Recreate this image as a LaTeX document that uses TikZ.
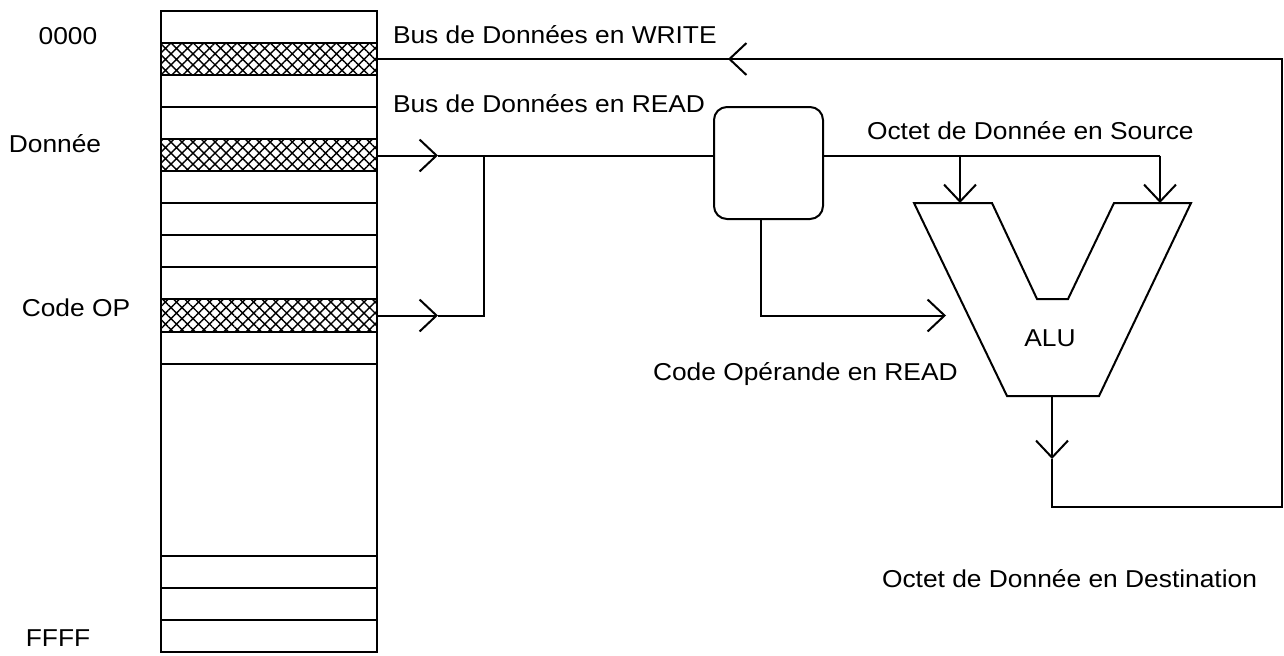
\documentclass[tikz,border=0pt]{standalone}
\usepackage{fontspec}
\setmainfont{Liberation Sans}[FakeStretch=1.08]
\usetikzlibrary{arrows.meta,patterns.meta}
\begin{document}
\begin{tikzpicture}[x=0.5pt,y=-0.5pt, line width=1pt,
  every node/.style={font=\fontsize{12.2}{14}\selectfont, inner sep=0pt, outer sep=0pt},
  chev/.tip={Straight Barb[length=8.5pt,width=16pt]},
  lbl/.style={anchor=base west},
  side/.style={anchor=base},
  memcol/.style={draw, line width=1.2pt, anchor=north west,
    minimum width=108pt, minimum height=320.5pt},
  hatched/.style={pattern={Hatch[angle=45,distance=3.9pt,line width=0.7pt]}},
  selbox/.style={draw, rounded corners=6.5pt, anchor=north west,
    minimum width=54.5pt, minimum height=56pt}]
\useasboundingbox (0,0) rectangle (1284,655);

% memory column: 20 slots of equal height
\def\slot{32.05}
\foreach \k in {1,4,9}
  \fill[hatched] (161,{11+\k*\slot}) rectangle (377,{11+(\k+1)*\slot});
\foreach \k in {1,...,11,17,18,19}
  \draw (161,{11+\k*\slot}) -- (377,{11+\k*\slot});
\node[memcol] (mem) at (161,11) {};

% address labels
\node[side] (a0) at (68,44) {0000};
\node[side] (aD) at (55,152) {Donnée};
\node[side] (aC) at (76,316) {Code OP};
\node[side] (aF) at (58,646) {FFFF};

% selector box
\node[selbox] (sel) at (714,107) {};

% ALU outline
\coordinate (aluTL) at (914,203);
\coordinate (aluIL) at (992,203);
\coordinate (aluNL) at (1037,299);
\coordinate (aluNR) at (1068,299);
\coordinate (aluIR) at (1114,203);
\coordinate (aluTR) at (1191,203);
\coordinate (aluBR) at (1099,396);
\coordinate (aluBL) at (1007,396);
\draw (aluTL) -- (aluIL) -- (aluNL) -- (aluNR) -- (aluIR) -- (aluTR)
  -- (aluBR) -- (aluBL) -- cycle;
\node (alu) at (1050,338) {ALU};

% connection points
\coordinate (rowW) at (377,59);
\coordinate (rowD) at (377,155.5);
\coordinate (rowC) at (377,315.5);
\coordinate (tipD) at (438,155.5);
\coordinate (tipC) at (438,315.5);
\coordinate (jR) at (484,155.5);
\coordinate (inA) at (960,203);
\coordinate (inB) at (1160,203);
\coordinate (opTap) at (761,219);
\coordinate (opTip) at (946,315.5);
\coordinate (out) at (1052,396);
\coordinate (outTip) at (1052,459);
\coordinate (loopBR) at (1282,507);
\coordinate (wTip) at (728,59);

% read bus
\draw[-chev] (rowD) -- (tipD);
\draw (tipD) -- (jR) -- (sel.west |- jR);
\draw[-chev] (rowC) -- (tipC);
\draw (tipC) -- (jR |- tipC) -- (jR);

% source operands
\draw (sel.east |- jR) -- (inB |- jR);
\draw[-chev] (inA |- jR) -- (inA);
\draw[-chev] (inB |- jR) -- (inB);

% operation code
\draw[-chev] (opTap) |- (opTip);

% result written back
\draw[-chev] (out) -- (outTip);
\draw (outTip) |- (loopBR) |- (wTip);
\draw[-chev] (loopBR |- rowW) -- (wTip);
\draw (wTip) -- (rowW);

% bus labels
\node[lbl] (tW) at (393,43.5) {Bus de Données en WRITE};
\node[lbl] (tR) at (393,112) {Bus de Données en READ};
\node[lbl] (tS) at (867,139) {Octet de Donnée en Source};
\node[lbl] (tC) at (653,380) {Code Opérande en READ};
\node[lbl] (tD) at (882,587) {Octet de Donnée en Destination};
\end{tikzpicture}
\end{document}
